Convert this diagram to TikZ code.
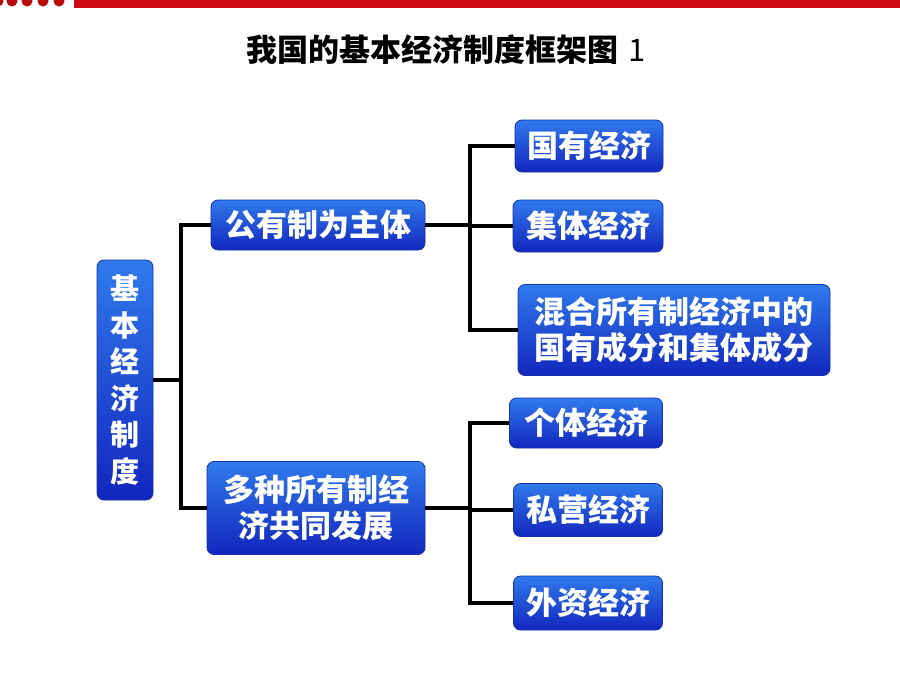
\documentclass[tikz,border=0pt]{standalone}
\usepackage{fontspec}
\setmainfont{Noto Sans CJK SC}
\usepackage{tikz}
\usetikzlibrary{positioning, calc}
\definecolor{boxtop}{RGB}{48,122,236}
\definecolor{boxbottom}{RGB}{18,38,190}
\definecolor{boxedge}{RGB}{20,50,170}
\definecolor{barred}{RGB}{204,12,16}

\begin{document}
\begin{tikzpicture}[
    x=1pt, y=-1pt,
    box/.style={draw=boxedge, line width=0.8pt, rounded corners=7pt, top color=boxtop, bottom color=boxbottom,
        text=white, font=\fontsize{31}{36}\selectfont\bfseries, align=center, inner sep=0pt},
    link/.style={line width=3.6pt, black},
]
\useasboundingbox (0,0) rectangle (900,673);
\fill[white] (0,0) rectangle (900,673);

% top strip
\fill[barred] (74,0) rectangle (900,7.5);
\foreach \dx in {-2,12,27,43,59} \fill[barred!90!black] (\dx,1) circle (5.5);

\node[font=\fontsize{31}{34}\selectfont\bfseries] (title) at (446,50) {我国的基本经济制度框架图\hspace{10pt}{\fontseries{m}\selectfont 1}};

% nodes
\node[box, minimum width=56, minimum height=240, font=\fontsize{29}{36.5}\selectfont\bfseries] (root) at (125,380) {基\\本\\经\\济\\制\\度};
\node[box, minimum width=214, minimum height=50] (pub) at (318,225) {公有制为主体};
\node[box, minimum width=218, minimum height=93] (multi) at (316,508) {多种所有制经\\济共同发展};

\node[box, minimum width=148, minimum height=52] (state) at (589,146) {国有经济};
\node[box, minimum width=150, minimum height=52] (coll) at (588,226) {集体经济};
\node[box, minimum width=312, minimum height=91] (mixed) at (674,330) {混合所有制经济中的\\国有成分和集体成分};

\node[box, minimum width=153, minimum height=50] (indiv) at (586,423) {个体经济};
\node[box, minimum width=149, minimum height=53] (priv) at (588,510) {私营经济};
\node[box, minimum width=149, minimum height=54] (foreign) at (588,603) {外资经济};

% connectors
\coordinate (j1) at (181,380);
\coordinate (j2) at (470,225);
\coordinate (j3) at (470,508);

\draw[link] (root.east) -- (j1);
\draw[link] (pub.west) -| (j1) |- (multi.west);

\draw[link] (pub.east) -- (j2);
\draw[link] (state.west) -| (j2) |- (mixed.west);
\draw[link] (j2) -- (coll.west -| j2) -- (coll.west);

\draw[link] (multi.east) -- (j3);
\draw[link] (indiv.west) -| (j3) |- (foreign.west);
\draw[link] (j3) -- (priv.west -| j3) -- (priv.west);
\end{tikzpicture}
\end{document}
